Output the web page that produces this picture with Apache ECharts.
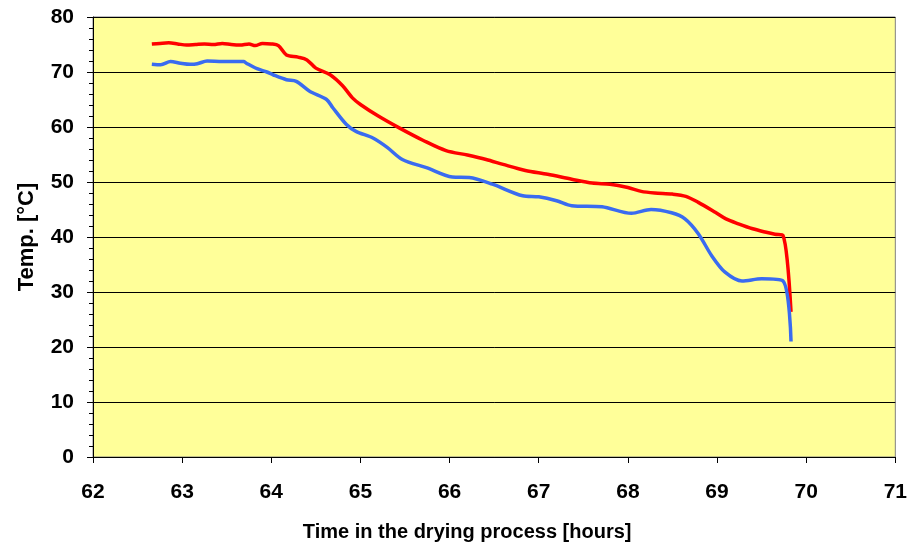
<!DOCTYPE html>
<html>
<head>
<meta charset="utf-8">
<script src="https://cdn.jsdelivr.net/npm/echarts@6/dist/echarts.min.js"></script>
<style>
  html, body { margin: 0; padding: 0; background: #fff; }
  #chart { width: 910px; height: 547px; }
</style>
</head>
<body>
<div id="chart"></div>
<script>
// red curve (upper)
var redTime = [62.66, 62.75, 62.85, 62.95, 63.05, 63.15, 63.25, 63.35, 63.45, 63.55, 63.65, 63.75, 63.82, 63.9, 64.0, 64.08,
    64.17, 64.3, 64.4, 64.5, 64.66, 64.8, 64.91, 65.0, 65.2, 65.44, 65.7, 65.96, 66.2, 66.41, 66.6, 66.85, 67.1, 67.37,
    67.6, 67.8, 68.0, 68.15, 68.3, 68.5, 68.65, 68.79, 68.98, 69.1, 69.24, 69.4, 69.54, 69.65, 69.74, 69.83];
var redTemp = [75.1, 75.2, 75.3, 75.1, 74.9, 75.0, 75.1, 75.0, 75.2, 75.0, 74.9, 75.1, 74.8, 75.2, 75.1, 74.8,
    73.1, 72.7, 72.2, 70.7, 69.5, 67.5, 65.3, 64.1, 62.0, 59.8, 57.6, 55.7, 54.9, 54.1, 53.2, 52.1, 51.4, 50.5,
    49.8, 49.6, 49.0, 48.3, 48.0, 47.8, 47.4, 46.3, 44.5, 43.3, 42.4, 41.5, 40.9, 40.5, 40.3, 26.4];

// blue curve (lower)
var blueTime = [62.66, 62.76, 62.87, 62.98, 63.09, 63.17, 63.28, 63.45, 63.6, 63.69, 63.72, 63.84, 63.95, 64.02,
    64.17, 64.28, 64.43, 64.62, 64.69, 64.84, 64.95, 65.14, 65.3, 65.47, 65.74, 66.03, 66.22, 66.48, 66.82, 67.0,
    67.2, 67.37, 67.71, 68.04, 68.26, 68.49, 68.64, 68.79, 68.94, 69.09, 69.28, 69.5, 69.74, 69.83];
var blueTemp = [71.4, 71.3, 71.9, 71.6, 71.4, 71.5, 72.0, 71.9, 71.9, 71.9, 71.6, 70.6, 70.0, 69.5,
    68.6, 68.3, 66.5, 65.0, 63.5, 60.5, 59.2, 58.0, 56.3, 54.1, 52.6, 50.9, 50.8, 49.6, 47.5, 47.3,
    46.6, 45.7, 45.5, 44.3, 45.0, 44.4, 43.3, 40.6, 36.6, 33.6, 32.0, 32.4, 32.0, 21.0];

var xLabel = 'Time in the drying process [hours]';
var yLabel = 'Temp. [°C]';

function pairs(xs, ys) {
    var out = [];
    for (var i = 0; i < xs.length; i++) out.push([xs[i], ys[i]]);
    return out;
}

var font = 'Liberation Sans, Arial, sans-serif';
var chart = echarts.init(document.getElementById('chart'));
chart.setOption({
    animation: false,
    grid: {
        left: 93, top: 17, right: 13, bottom: 88,
        show: true, backgroundColor: '#FFFF99', borderColor: '#808080', borderWidth: 1
    },
    xAxis: {
        type: 'value', min: 62, max: 71, interval: 1,
        name: xLabel, nameLocation: 'middle', nameGap: 65,
        nameTextStyle: { fontFamily: font, fontWeight: 'bold', fontSize: 20, color: '#000', padding: [0, 54, 0, 0] },
        axisLine: { lineStyle: { color: '#000', width: 1 } },
        axisTick: { length: 6, lineStyle: { color: '#000' } },
        axisLabel: { fontFamily: font, fontWeight: 'bold', fontSize: 21, color: '#000', margin: 25 },
        splitLine: { show: false }
    },
    yAxis: {
        type: 'value', min: 0, max: 80, interval: 10,
        name: yLabel, nameLocation: 'middle', nameGap: 55, nameRotate: 90,
        nameTextStyle: { fontFamily: font, fontWeight: 'bold', fontSize: 22, color: '#000' },
        axisLine: { show: true, lineStyle: { color: '#000', width: 1 } },
        axisTick: { length: 6, lineStyle: { color: '#000' } },
        minorTick: { show: true, splitNumber: 5, length: 4, lineStyle: { color: '#000' } },
        axisLabel: { fontFamily: font, fontWeight: 'bold', fontSize: 21, color: '#000', margin: 19 },
        splitLine: { show: true, lineStyle: { color: '#000', width: 1 } }
    },
    series: [
        {
            type: 'line', data: pairs(redTime, redTemp), showSymbol: false, smooth: 0.3,
            lineStyle: { color: '#FF0000', width: 3.5 }
        },
        {
            type: 'line', data: pairs(blueTime, blueTemp), showSymbol: false, smooth: 0.3,
            lineStyle: { color: '#3A6BF0', width: 3.5 }
        }
    ]
});
</script>
</body>
</html>
